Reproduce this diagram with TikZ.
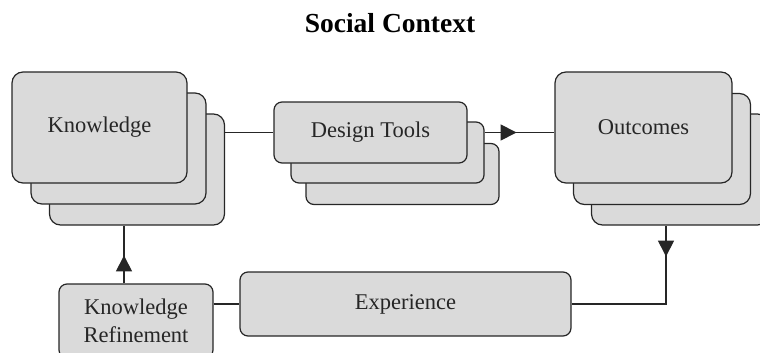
\documentclass[tikz,border=0pt]{standalone}
\usepackage{fontspec}
\setmainfont{Liberation Serif}
\usetikzlibrary{arrows.meta,decorations.markings}

\definecolor{cardfill}{HTML}{DADADA}
\definecolor{ink}{HTML}{262626}

\tikzset{
  card/.style={draw=ink, fill=cardfill, line width=1.2pt, rounded corners=11pt,
               inner sep=0pt, font=\fontsize{22.5}{28}\selectfont, text=ink},
  smallcard/.style={card, rounded corners=8pt},
  conn/.style={draw=ink, line width=1.1pt},
  midarrow/.style={postaction={decorate}, decoration={markings,
      mark=at position #1 with {\arrow{Triangle[length=16pt,width=16pt]}}}},
}

\begin{document}
\begin{tikzpicture}[x=1pt, y=-1pt]
  \useasboundingbox (0,0) rectangle (760,353);

  % title
  \node (title) at (390,23) {\fontsize{27.5}{32}\selectfont\bfseries Social Context};

  % knowledge stack
  \node[card, minimum width=175pt, minimum height=111pt] (k3) at (137,169.5) {};
  \node[card, minimum width=175pt, minimum height=111pt] (k2) at (118.5,148.5) {};
  \node[card, minimum width=175pt, minimum height=111pt] (k1) at (99.5,127.5) {Knowledge};

  % design tools stack
  \node[smallcard, minimum width=193pt, minimum height=61pt] (dt3) at (402.5,174) {};
  \node[smallcard, minimum width=193pt, minimum height=61pt] (dt2) at (387.5,152.5) {};
  \node[smallcard, minimum width=193pt, minimum height=61pt] (dt1) at (370.5,132.5) {Design Tools};

  % outcomes stack
  \node[card, minimum width=177pt, minimum height=111pt] (o3) at (680,169.5) {};
  \node[card, minimum width=177pt, minimum height=111pt] (o2) at (662,149) {};
  \node[card, minimum width=177pt, minimum height=111pt] (o1) at (643.5,127.5) {Outcomes};

  % bottom row
  \node[smallcard, minimum width=331pt, minimum height=64pt] (exp) at (405.5,304) {Experience};
  \node[smallcard, minimum width=154pt, minimum height=74pt, align=center] (kr) at (136,321)
        {Knowledge\\Refinement};

  % connectors
  \draw[conn] (k3.east |- dt1.west) -- (dt1.west);
  \draw[conn, midarrow=32pt] (dt2.east |- dt1.west) -- (o1.west |- dt1.west);
  \draw[conn, midarrow=31pt] ([xshift=-14pt]o3.south) -- ([xshift=-14pt]o3.south |- exp.east) -- (exp.east);
  \draw[conn] (kr.east |- exp.west) -- (exp.west);
  \draw[conn, midarrow=28pt] ([xshift=-12pt]kr.north) -- ([xshift=-12pt]kr.north |- k3.south);
\end{tikzpicture}
\end{document}
